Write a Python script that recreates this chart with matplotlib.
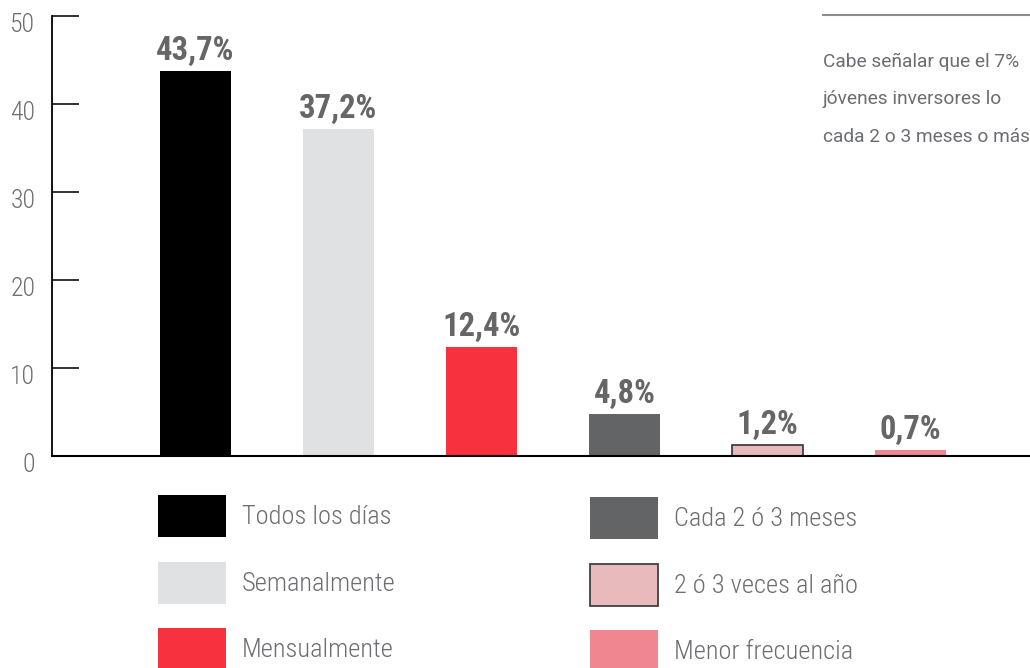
import matplotlib
matplotlib.use("Agg")
import matplotlib.pyplot as plt
from matplotlib.patches import Patch
from matplotlib.transforms import ScaledTranslation

# data
categories = ["Todos los días", "Semanalmente", "Mensualmente",
              "Cada 2 ó 3 meses", "2 ó 3 veces al año", "Menor frecuencia"]
values = [43.7, 37.2, 12.4, 4.8, 1.2, 0.7]
colors = ["#000000", "#e0e1e3", "#f7313d", "#636466", "#e8babb", "#f08690"]
edges = ["none", "none", "none", "none", "#333333", "none"]
yticks = [0, 10, 20, 30, 40, 50]
note_lines = ["Cabe señalar que el 7%",
              "jóvenes inversores lo",
              "cada 2 o 3 meses o más"]

cond = ["Roboto Condensed", "Roboto", "DejaVu Sans"]
gray = "#6d6e71"

fig = plt.figure(figsize=(10.3, 6.68), dpi=100)
W, H = 1030, 668
ax = fig.add_axes([52 / W, (H - 456) / H, 1 - 52 / W, (456 - 16) / H])

x = list(range(len(values)))
bars = ax.bar(x, values, width=0.5, color=colors, edgecolor=edges, linewidth=1.2)
labels = [f"{v:.1f}".replace(".", ",") + "%" for v in values]
ax.bar_label(bars, labels=labels, padding=3, fontsize=23.5, fontweight="bold",
             color="#666666", family=cond)

ax.set_xlim(-1.003, (W - 195.5) / 143)
ax.set_ylim(0, 50)
ax.set_yticks(yticks)
ax.set_yticklabels([str(t) for t in yticks], family=cond, fontsize=18.5,
                   fontweight="light", color=gray)
ax.tick_params(axis="y", direction="in", length=19.5, width=1.3, color="#222222", pad=12)
ax.set_xticks([])
for s in ["top", "right"]:
    ax.spines[s].set_visible(False)
ax.spines["left"].set_linewidth(1.3)
ax.spines["bottom"].set_linewidth(1.5)
ax.set_facecolor("none")

# shift tick labels slightly downward as in the reference
off = ScaledTranslation(0, -7 / 100, fig.dpi_scale_trans)
for lab in ax.get_yticklabels():
    lab.set_transform(lab.get_transform() + off)

# legend in two columns
handles = [Patch(facecolor=c, edgecolor=(e if e != "none" else c),
                 linewidth=(1.2 if e != "none" else 0)) for c, e in zip(colors, edges)]
fs = 19
fpx = fs * 100 / 72
common = dict(frameon=False, handlelength=68 / fpx,
              handleheight=(42 / fpx - 0.245) / 0.65,
              labelspacing=24.5 / fpx, handletextpad=16 / fpx,
              borderpad=0, borderaxespad=0, loc="upper left",
              bbox_transform=fig.transFigure,
              prop={"family": cond, "size": fs, "weight": "light"})
leg1 = fig.legend(handles[:3], categories[:3],
                  bbox_to_anchor=(158 / W, 1 - 495 / H), **common)
leg2 = fig.legend(handles[3:], categories[3:],
                  bbox_to_anchor=(590 / W, 1 - 497 / H), **common)
for leg in (leg1, leg2):
    for t in leg.get_texts():
        t.set_color(gray)

# side note in the top right corner
fig.add_artist(plt.Line2D([823 / W, 1.0], [1 - 15 / H, 1 - 15 / H],
                          transform=fig.transFigure, color="#8a8c8e", linewidth=1.5))
for i, line in enumerate(note_lines):
    fig.text(823 / W, 1 - (62 + 37.5 * i) / H, line, fontsize=13.8, color="#6a6d72",
             family=["Roboto", "DejaVu Sans"], va="center", ha="left")

fig.savefig("out.png", dpi=100)
